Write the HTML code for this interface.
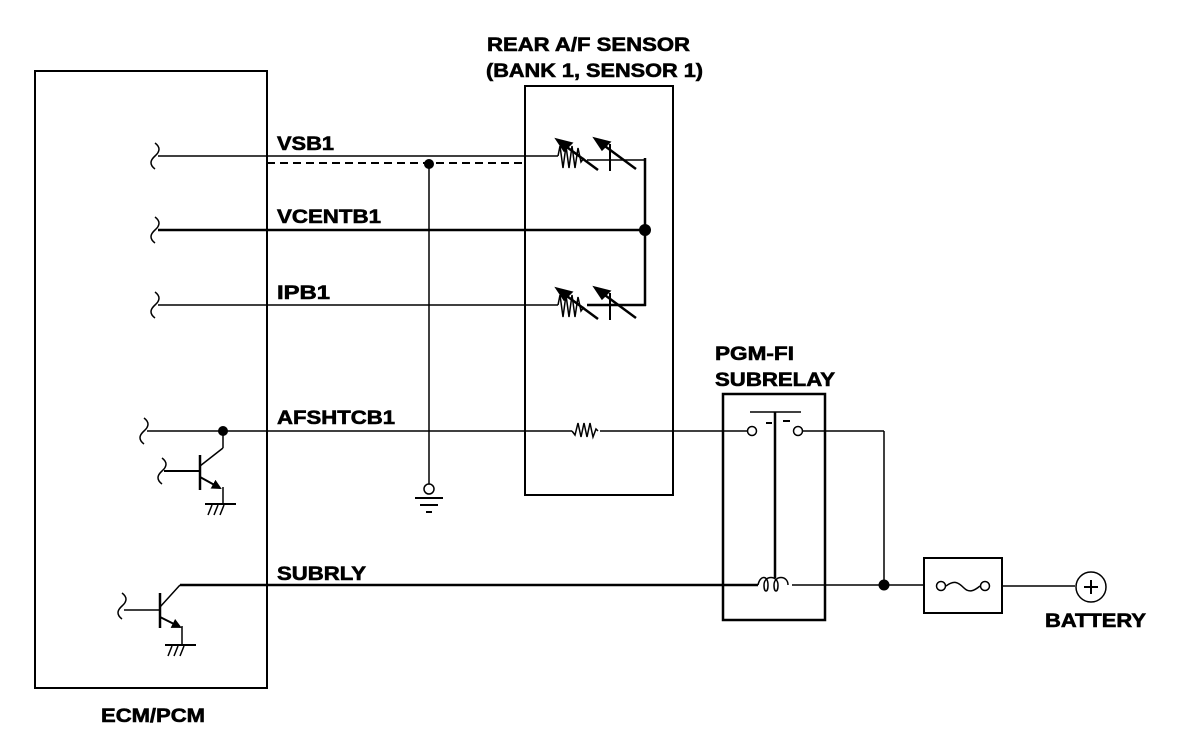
<!DOCTYPE html>
<html><head><meta charset="utf-8"><style>html,body{margin:0;padding:0;background:#fff}svg{display:block}text{font-family:"Liberation Sans",Arial,sans-serif;font-weight:bold;font-size:19px;fill:#000;stroke:#000;stroke-width:0.6}</style></head>
<body>
<svg width="1200" height="736" viewBox="0 0 1200 736" xmlns="http://www.w3.org/2000/svg">
<defs>
<marker id="ah" markerWidth="10" markerHeight="10" refX="8" refY="5" orient="auto" markerUnits="userSpaceOnUse"><path d="M0,0 L10,5 L0,10 z" fill="#000"/></marker>
</defs>
<g fill="none" stroke="#000" stroke-width="1.5">
<rect x="35" y="71" width="232" height="617" stroke-width="2"/>
<rect x="525" y="86" width="148" height="409" stroke-width="2"/>
<rect x="723" y="394" width="102" height="226" stroke-width="2.5"/>
<rect x="924" y="558" width="78" height="55" stroke-width="2"/>
<path d="M155,143 q8,6 0,13 q-8,7 0,13"/>
<path d="M155,217 q8,6 0,13 q-8,7 0,13"/>
<path d="M155,292 q8,6 0,13 q-8,7 0,13"/>
<path d="M144,418 q8,6 0,13 q-8,7 0,13"/>
<path d="M162,458 q8,6 0,13 q-8,7 0,13"/>
<path d="M122,593 q8,6 0,13 q-8,7 0,13"/>
<line x1="158" y1="156" x2="558" y2="156"/>
<line x1="267" y1="163" x2="525" y2="163" stroke-width="2" stroke-dasharray="8,5"/>
<line x1="429" y1="163" x2="429" y2="484"/>
<circle cx="429" cy="489" r="5"/>
<line x1="415" y1="498" x2="443" y2="498" stroke-width="2"/>
<line x1="420" y1="505" x2="438" y2="505" stroke-width="2"/>
<line x1="426" y1="512" x2="432" y2="512" stroke-width="2"/>
<path d="M558,156 l2,-10 l3,22 l3,-22 l3,22 l3,-22 l3,22 l3,-20 l3,14 l3,-4"/>
<line x1="587" y1="160" x2="645" y2="160"/>
<line x1="560" y1="142" x2="598" y2="170" stroke-width="2.5"/>
<path d="M556,139 l16,4 l-8,8 z" fill="#000"/>
<line x1="610" y1="144" x2="610" y2="171" stroke-width="2"/>
<line x1="598" y1="141" x2="636" y2="169" stroke-width="2.5"/>
<path d="M594,138 l16,4 l-8,8 z" fill="#000"/>
<line x1="645" y1="158" x2="645" y2="306" stroke-width="2.5"/>
<line x1="158" y1="230" x2="645" y2="230" stroke-width="2.5"/>
<line x1="158" y1="305" x2="558" y2="305"/>
<path d="M558,305 l2,-10 l3,22 l3,-22 l3,22 l3,-22 l3,22 l3,-20 l3,14 l3,-4"/>
<line x1="587" y1="305" x2="646" y2="305" stroke-width="2.5"/>
<line x1="560" y1="291" x2="598" y2="319" stroke-width="2.5"/>
<path d="M556,288 l16,4 l-8,8 z" fill="#000"/>
<line x1="610" y1="293" x2="610" y2="320" stroke-width="2"/>
<line x1="598" y1="290" x2="636" y2="318" stroke-width="2.5"/>
<path d="M594,287 l16,4 l-8,8 z" fill="#000"/>
<line x1="147" y1="431" x2="572" y2="431"/>
<path d="M572,431 l3,4 l3,-12 l3,14 l3,-14 l3,14 l3,-14 l3,14 l3,-8 l2,2"/>
<line x1="600" y1="431" x2="748" y2="431"/>
<circle cx="752" cy="431" r="4.5"/>
<circle cx="798" cy="431" r="4.5"/>
<line x1="750" y1="412" x2="801" y2="412"/>
<line x1="766" y1="423" x2="772" y2="423" stroke-width="2"/>
<line x1="783" y1="421" x2="790" y2="421" stroke-width="2"/>
<line x1="775" y1="412" x2="775" y2="578" stroke-width="2.5"/>
<line x1="803" y1="431" x2="884" y2="431"/>
<line x1="884" y1="431" x2="884" y2="585"/>
<line x1="223" y1="431" x2="223" y2="448"/>
<line x1="223" y1="448" x2="200" y2="466"/>
<line x1="164" y1="471" x2="200" y2="471" stroke-width="2"/>
<line x1="200" y1="455" x2="200" y2="490" stroke-width="2.5"/>
<line x1="200" y1="477" x2="220" y2="488" marker-end="url(#ah)" stroke-width="2"/>
<line x1="223" y1="487" x2="223" y2="504"/>
<line x1="205" y1="504" x2="236" y2="504" stroke-width="2"/>
<path d="M212,505 l-4,10 M218,505 l-4,10 M224,505 l-4,10" stroke-width="1.5"/>
<line x1="180" y1="585" x2="267" y2="585" stroke-width="2.5"/>
<line x1="180" y1="585" x2="160" y2="607"/>
<line x1="124" y1="610" x2="160" y2="610"/>
<line x1="160" y1="593" x2="160" y2="628" stroke-width="2.5"/>
<line x1="160" y1="617" x2="180" y2="627" marker-end="url(#ah)" stroke-width="2"/>
<line x1="182" y1="626" x2="182" y2="645"/>
<line x1="165" y1="645" x2="196" y2="645" stroke-width="2"/>
<path d="M172,646 l-4,10 M178,646 l-4,10 M184,646 l-4,10" stroke-width="1.5"/>
<line x1="267" y1="585" x2="758" y2="585" stroke-width="2.5"/>
<path d="M758,585 c2,-10 10,-10 10,0 c0,8 -4,8 -4,0 c0,-10 14,-10 14,0 c0,8 -4,8 -4,0 c0,-10 14,-10 14,0"/>
<line x1="792" y1="585" x2="925" y2="585"/>
<circle cx="941" cy="586" r="4.5"/>
<circle cx="985" cy="586" r="4.5"/>
<path d="M946,586 c8,-6 12,-4 18,2 c5,5 10,3 16,-2"/>
<line x1="1002" y1="586" x2="1075" y2="586"/>
<circle cx="1091" cy="587" r="15"/>
<line x1="1084" y1="587" x2="1098" y2="587" stroke-width="2"/>
<line x1="1091" y1="580" x2="1091" y2="594" stroke-width="2"/>
</g>
<g fill="#000">
<circle cx="429" cy="164" r="5"/>
<circle cx="645" cy="230" r="6"/>
<circle cx="223" cy="431" r="5"/>
<circle cx="884" cy="585" r="5.5"/>
</g>
<text x="487" y="51" textLength="203" lengthAdjust="spacingAndGlyphs">REAR A/F SENSOR</text>
<text x="486" y="77" textLength="217" lengthAdjust="spacingAndGlyphs">(BANK 1, SENSOR 1)</text>
<text x="277" y="150" textLength="57" lengthAdjust="spacingAndGlyphs">VSB1</text>
<text x="277" y="223" textLength="104" lengthAdjust="spacingAndGlyphs">VCENTB1</text>
<text x="277" y="299" textLength="53" lengthAdjust="spacingAndGlyphs">IPB1</text>
<text x="277" y="424" textLength="118" lengthAdjust="spacingAndGlyphs">AFSHTCB1</text>
<text x="277" y="580" textLength="89" lengthAdjust="spacingAndGlyphs">SUBRLY</text>
<text x="715" y="360" textLength="79" lengthAdjust="spacingAndGlyphs">PGM-FI</text>
<text x="715" y="386" textLength="120" lengthAdjust="spacingAndGlyphs">SUBRELAY</text>
<text x="1045" y="627" textLength="101" lengthAdjust="spacingAndGlyphs">BATTERY</text>
<text x="101" y="722" textLength="104" lengthAdjust="spacingAndGlyphs">ECM/PCM</text>
</svg>
</body></html>
